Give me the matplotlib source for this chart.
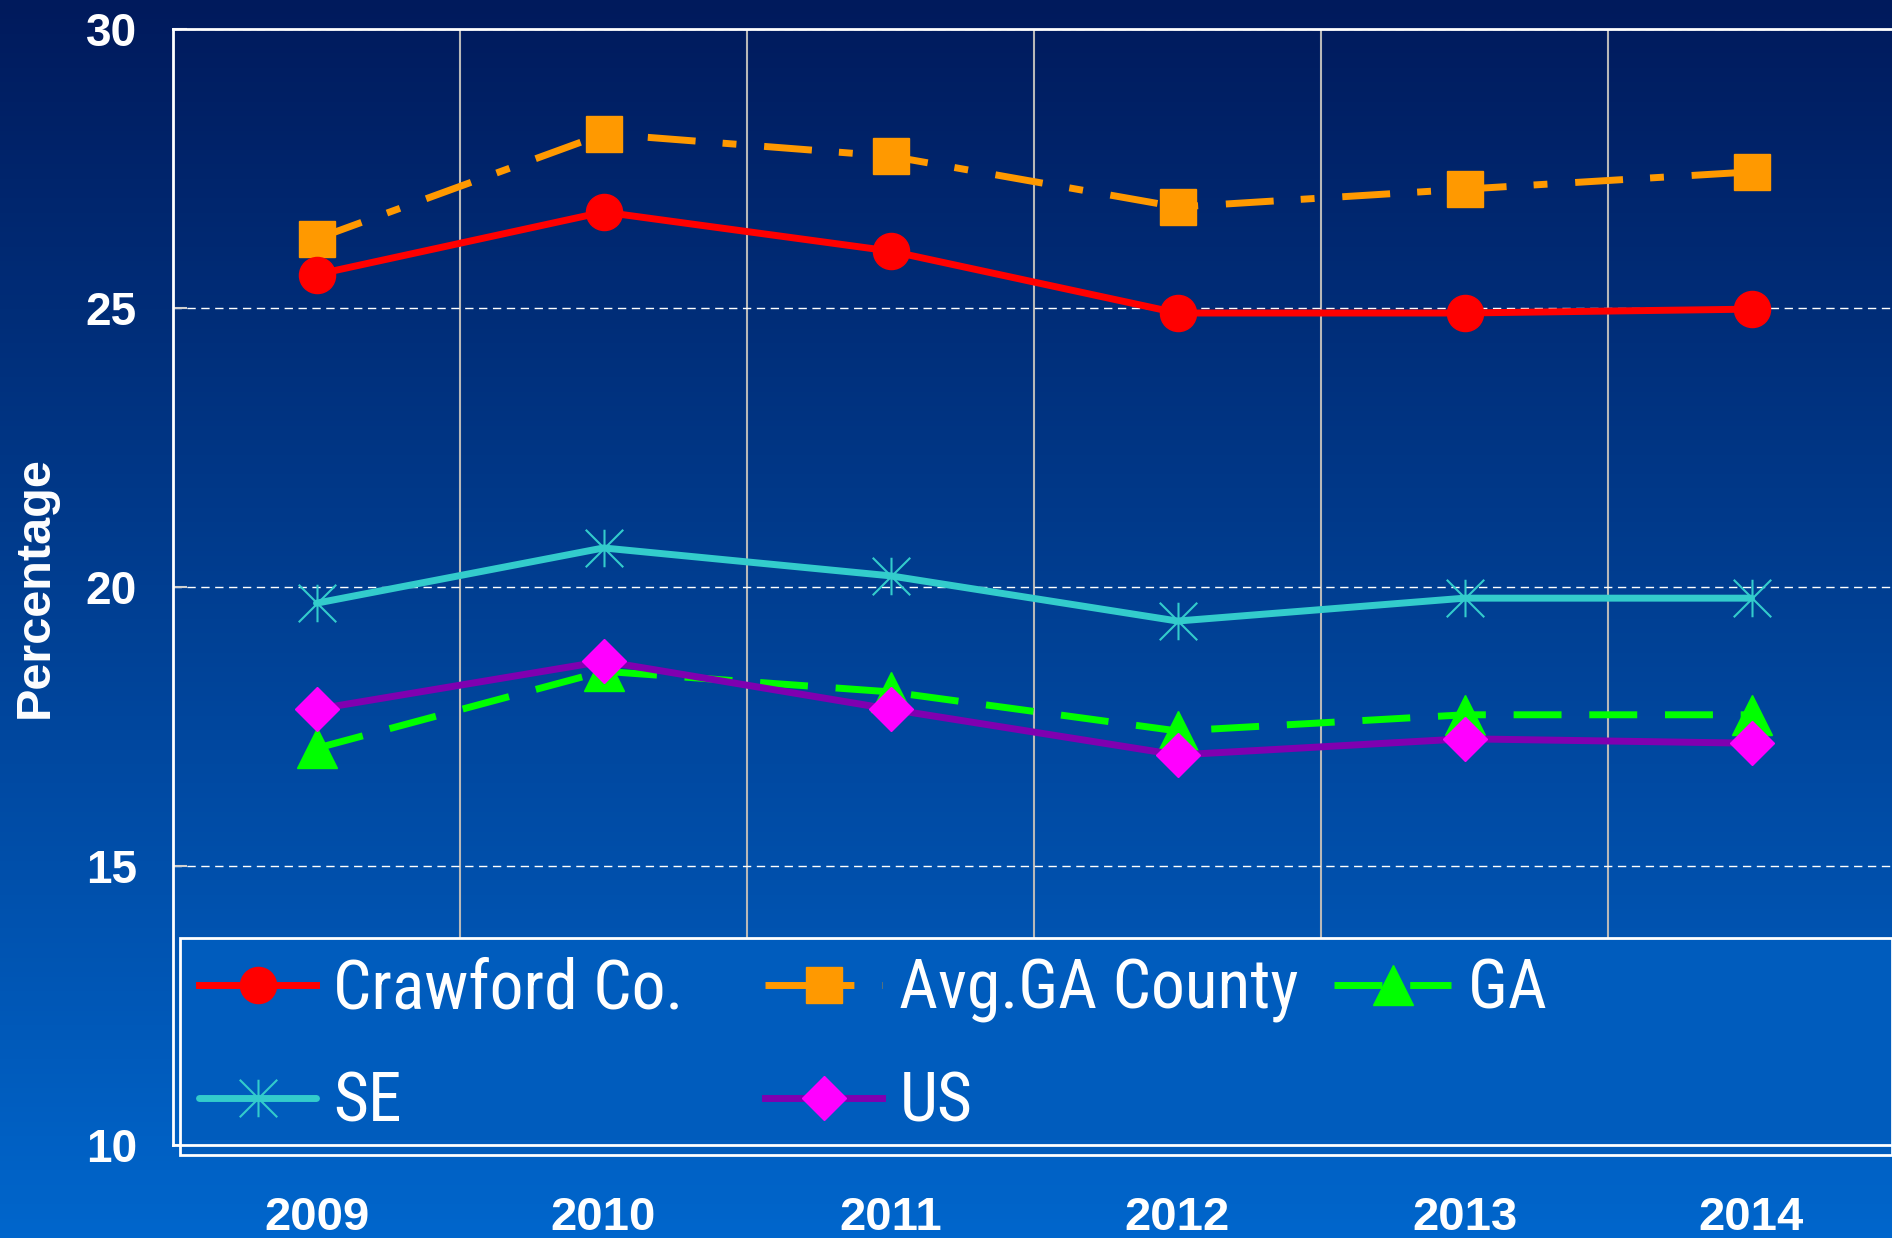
import numpy as np
import matplotlib
matplotlib.use("Agg")
import matplotlib.pyplot as plt
from matplotlib.path import Path
from matplotlib import font_manager as fm
from matplotlib.font_manager import FontProperties

# ---------------- data ----------------
years = ['2009', '2010', '2011', '2012', '2013', '2014']
crawford = [25.6, 26.72, 26.02, 24.91, 24.91, 24.98]
avg_ga = [26.24, 28.12, 27.72, 26.81, 27.13, 27.44]
ga = [17.11, 18.49, 18.12, 17.42, 17.71, 17.71]
se = [19.71, 20.70, 20.20, 19.39, 19.80, 19.80]
us = [17.81, 18.67, 17.81, 16.99, 17.28, 17.20]
labels = ['Crawford Co.', 'Avg.GA County', 'GA', 'SE', 'US']
y_ticks = [10, 15, 20, 25, 30]

# ---------------- fonts ----------------
def find_narrow():
    prefs = ['Liberation Sans Narrow', 'Arial Narrow', 'Roboto Condensed',
             'Open Sans Condensed', 'Noto Sans Condensed']
    entries = fm.fontManager.ttflist
    for p in prefs:
        for f in entries:
            if f.name == p and f.style == 'normal' and f.weight in (400, 'normal', 'regular'):
                return FontProperties(fname=f.fname)
    for f in entries:
        if (f.stretch in ('condensed', 'semi-condensed', 'extra-condensed')
                and f.style == 'normal' and f.weight in (400, 'normal', 'regular')
                and f.name in ('Roboto', 'Open Sans', 'Noto Sans', 'DejaVu Sans', 'Lato', 'Inter')):
            return FontProperties(fname=f.fname)
    return FontProperties(family='Liberation Sans')

names = {f.name for f in fm.fontManager.ttflist}
bold_font = 'Liberation Sans' if 'Liberation Sans' in names else 'DejaVu Sans'
leg_prop = find_narrow()

W, H = 1892, 1238
fig = plt.figure(figsize=(W / 100, H / 100), dpi=100)
renderer = fig.canvas.get_renderer()

def text_w(s, prop):
    w, h, d = renderer.get_text_width_height_descent(s, prop, ismath=False)
    return w, h

# legend font size: cap height ~50px and "Crawford Co." width ~345px
leg_prop.set_size(50)
w50, _ = text_w('Crawford Co.', leg_prop)
size = 50 * min(1.0, (345.0 / w50) ** 0.6)
leg_prop.set_size(size)
fs_px = size * 100 / 72.0

# gradient background
bg = fig.add_axes([0, 0, 1, 1], zorder=-10)
top = np.array([0, 26, 92]) / 255.0
bot = np.array([0, 102, 204]) / 255.0
t = np.linspace(0, 1, 256)[:, None]
grad = (top[None, :] * (1 - t) + bot[None, :] * t)[:, None, :]
bg.imshow(grad, aspect='auto', extent=[0, 1, 0, 1], origin='upper')
bg.set_axis_off()

ax = fig.add_axes([173 / W, 1 - 1145 / H, 1722 / W, 1116 / H])
ax.set_facecolor('none')

x = np.arange(len(years))

star = Path([(0, -1), (0, 1), (-1, -1), (1, 1), (-1, 1), (1, -1)],
            [Path.MOVETO, Path.LINETO, Path.MOVETO, Path.LINETO, Path.MOVETO, Path.LINETO])

l_cr, = ax.plot(x, crawford, color='#FF0000', lw=5, marker='o', ms=26,
                mec='#FF0000', mfc='#FF0000', zorder=5)
l_avg, = ax.plot(x, avg_ga, color='#FF9900', lw=5, marker='s', ms=26,
                 mec='#FF9900', mfc='#FF9900', dashes=(6.9, 3.9, 2.0, 4.0), zorder=4)
l_ga, = ax.plot(x, ga, color='#00FF00', lw=5, marker='^', ms=29,
                mec='#00FF00', mfc='#00FF00', dashes=(6.9, 4.0), zorder=4)
l_se, = ax.plot(x, se, color='#33CCCC', lw=5, marker=star, ms=27,
                mec='#33CCCC', mew=1.5, solid_capstyle='round', zorder=4)
l_us, = ax.plot(x, us, color='#8000B0', lw=5, marker='D', ms=22,
                mec='#FF00FF', mfc='#FF00FF', zorder=6)

ax.set_xlim(-0.5, 5.5)
ax.set_ylim(10, 30)

ax.set_xticks(x)
ax.set_xticklabels(years)
ax.set_xticks(np.arange(0.5, 5.6, 1.0), minor=True)
ax.tick_params(axis='x', which='major', length=0, pad=37, labelsize=34, labelcolor='white')
ax.tick_params(axis='x', which='minor', length=5, width=1.5, direction='out', color='#d0d0d0')
for lab in ax.get_xticklabels():
    lab.set_fontweight('bold')
    lab.set_family(bold_font)

ax.set_yticks(y_ticks)
ax.set_yticklabels([str(v) for v in y_ticks])
ax.tick_params(axis='y', which='major', direction='in', length=10, width=1.5,
               color='#d0d0d0', pad=26, labelsize=33, labelcolor='white')
for lab in ax.get_yticklabels():
    lab.set_fontweight('bold')
    lab.set_family(bold_font)

ax.grid(True, axis='x', which='minor', color='#b8b8b8', lw=1.5)
ax.grid(True, axis='y', which='major', color='white', lw=1.0, linestyle=(0, (6, 4)))
ax.set_axisbelow(True)

for side in ['top', 'left', 'bottom']:
    ax.spines[side].set_color('white')
    ax.spines[side].set_linewidth(2)
ax.spines['right'].set_visible(False)

ax.set_ylabel('Percentage', color='white', fontsize=35, fontweight='bold', family=bold_font)
ax.yaxis.set_label_coords(-0.0672, 0.5)

# ---------------- legend geometry (pixel targets) ----------------
frame_left, frame_right, frame_bottom = 180, 1889, 1155
col_starts = [199, 767, 1342]
hl_px, htp_px, cs_px = 117, 17, 20
pad_px = col_starts[0] - frame_left

def pad_to(label, target):
    s = label
    n = 0
    while text_w(s + ' ', leg_prop)[0] <= target and n < 80:
        s += ' '
        n += 1
    # take one more space if that lands closer to the target
    if abs(text_w(s + ' ', leg_prop)[0] - target) < abs(text_w(s, leg_prop)[0] - target):
        s += ' '
    return s

t1 = col_starts[1] - col_starts[0] - cs_px - hl_px - htp_px
t2 = col_starts[2] - col_starts[1] - cs_px - hl_px - htp_px
t3 = frame_right - pad_px - col_starts[2] - hl_px - htp_px
lab_cr = pad_to('Crawford Co.', t1)
lab_avg = pad_to('Avg.GA County', t2)
lab_ga = pad_to('GA', t3)

_, lp_h = text_w('lp', leg_prop)
row_pitch = 113
labelspacing = max(0.0, (row_pitch - lp_h) / fs_px)

handles = [l_cr, l_se, l_avg, l_us, l_ga]

def make_legend(lab_ga):
    leg = ax.legend(handles, [lab_cr, 'SE', lab_avg, 'US', lab_ga], ncol=3, loc='lower left',
                    bbox_to_anchor=(frame_left / W, 1 - frame_bottom / H),
                    bbox_transform=fig.transFigure, prop=leg_prop,
                    labelcolor='white', handlelength=hl_px / fs_px,
                    handletextpad=htp_px / fs_px,
                    columnspacing=cs_px / fs_px, labelspacing=labelspacing,
                    borderpad=pad_px / fs_px, borderaxespad=0, numpoints=1,
                    fancybox=False, framealpha=1)
    fr = leg.get_frame()
    fr.set_facecolor('#005CBD')
    fr.set_edgecolor('white')
    fr.set_linewidth(2)
    leg.set_zorder(2)
    return leg

leg = make_legend(lab_ga)
for _ in range(6):
    fig.canvas.draw()
    x1 = leg.get_window_extent(fig.canvas.get_renderer()).x1
    if frame_right - x1 > 7 and x1 < W - 10:
        lab_ga += ' '
        leg.remove()
        leg = make_legend(lab_ga)
    else:
        break

fig.savefig('out.png', dpi=100)
